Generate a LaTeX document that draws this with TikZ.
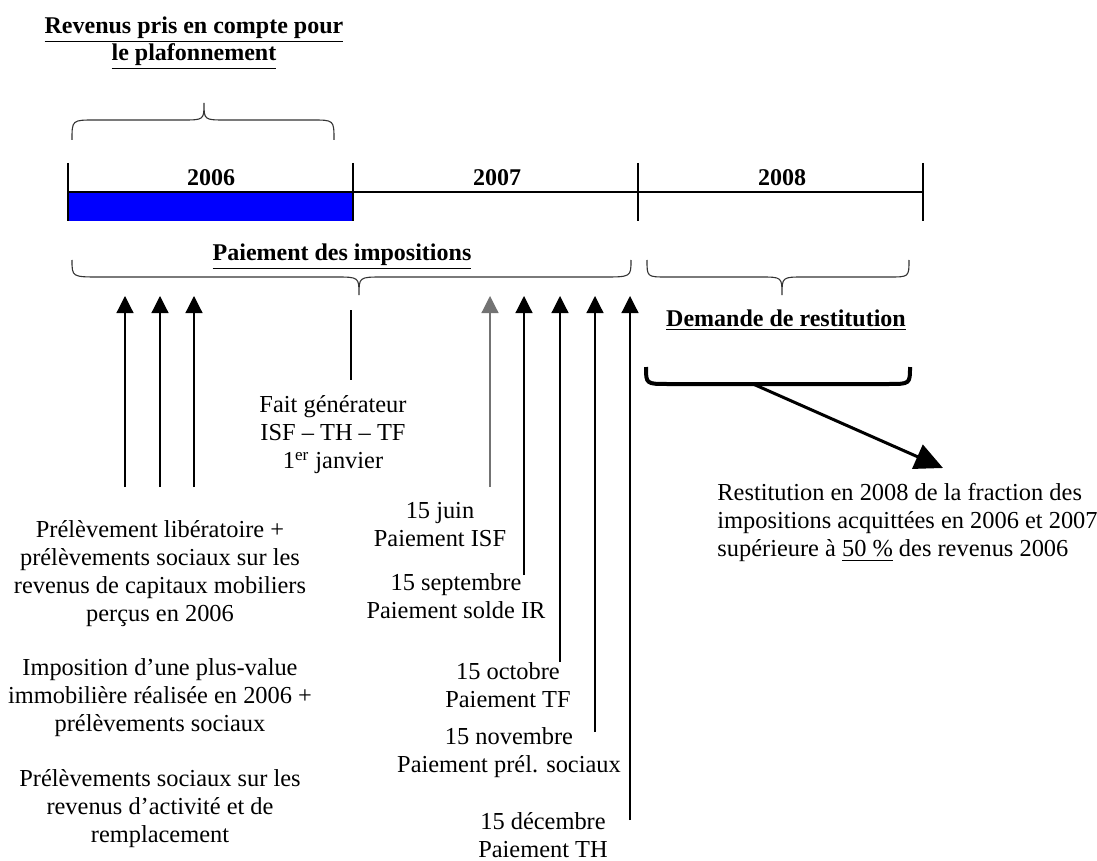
\documentclass[tikz,border=0pt]{standalone}
\usepackage{fontspec}
\setmainfont{Liberation Serif}
\usetikzlibrary{arrows.meta,positioning}

\begin{document}
\begin{tikzpicture}[x=0.5pt,y=-0.5pt,>=Latex,
txt/.style={align=center,font=\fontsize{12.2}{14}\selectfont,inner sep=0pt},
head/.style={align=center,font=\fontsize{12}{13.5}\selectfont\bfseries,inner sep=0pt},
tick/.style={line width=0.6pt},
brace/.style={line width=0.55pt,black!80},
uparrow/.style={-{Triangle[width=8.5pt,length=8.5pt]},line width=0.6pt}]
\useasboundingbox (0,0) rectangle (1097,861);
% timeline
\fill[blue] (68,192) rectangle (353,221);
\draw[tick] (68,192) -- (923,192);
\draw[tick] (68,163) -- (68,221);
\draw[tick] (353,163) -- (353,221);
\draw[tick] (638,163) -- (638,221);
\draw[tick] (923,163) -- (923,221);
\node[head] (y2006) at (211,178) {2006};
\node[head] (y2007) at (497,178) {2007};
\node[head] (y2008) at (782,178) {2008};
% headings
\node[head] (revenus) at (194,43) {\underline{Revenus pris en compte pour}\\\underline{le plafonnement}};
\node[head] (paiement) at (342,257) {\underline{Paiement des impositions}};
\node[head] (demande) at (786,320) {\underline{Demande de restitution}};
% braces
\draw[brace] (72,140) .. controls (72,120) .. (95,120) -- (182,120) .. controls (204,120) .. (204,103) .. controls (204,120) .. (226,120) -- (312,120) .. controls (334,120) .. (334,140);
\draw[brace] (72,260) .. controls (72,277) .. (100,277) -- (335,277) .. controls (359,277) .. (359,295) .. controls (359,277) .. (383,277) -- (603,277) .. controls (631,277) .. (631,260);
\draw[brace] (647,260) .. controls (647,277) .. (667,277) -- (760,277) .. controls (782,277) .. (782,295) .. controls (782,277) .. (804,277) -- (889,277) .. controls (909,277) .. (909,260);
\draw[line width=2pt] (646,367) .. controls (646,384) .. (668,384) -- (888,384) .. controls (910,384) .. (910,367);
% texts
\node[txt] (fait) at (333,435) {Fait générateur\\ISF – TH – TF\\1\textsuperscript{er} janvier};
\node[txt] (liber) at (160,574) {Prélèvement libératoire +\\prélèvements sociaux sur les\\revenus de capitaux mobiliers\\perçus en 2006};
\node[txt] (plusval) at (160,698) {Imposition d’une plus-value\\immobilière réalisée en 2006 +\\prélèvements sociaux};
\node[txt] (sociaux) at (160,809) {Prélèvements sociaux sur les\\revenus d’activité et de\\remplacement};
\node[txt] (juin) at (440,525) {15 juin\\Paiement ISF};
\node[txt] (sept) at (456,596) {15 septembre\\Paiement solde IR};
\node[txt] (oct) at (508,685) {15 octobre\\Paiement TF};
\node[txt] (nov) at (509,753) {15 novembre\\Paiement prél. sociaux};
\node[txt] (dec) at (543,835) {15 décembre\\Paiement TH};
\node[txt,align=left,anchor=west] (restit) at (717,523) {Restitution en 2008 de la fraction des\\impositions acquittées en 2006 et 2007\\supérieure à \underline{50 \%} des revenus 2006};
% connectors
\coordinate (fgtop) at (351,310);
\coordinate (fgbot) at (351,380);
\draw[tick] (fgtop) -- (fgbot);
\coordinate (a1) at (125,487); \coordinate (a1t) at (125,296);
\coordinate (a2) at (160,487); \coordinate (a2t) at (160,296);
\coordinate (a3) at (194,487); \coordinate (a3t) at (194,296);
\draw[uparrow] (a1) -- (a1t);
\draw[uparrow] (a2) -- (a2t);
\draw[uparrow] (a3) -- (a3t);
\coordinate (b1) at (490,487); \coordinate (b1t) at (490,296);
\coordinate (b2) at (524,575); \coordinate (b2t) at (524,296);
\coordinate (b3) at (560,662); \coordinate (b3t) at (560,296);
\coordinate (b4) at (595,732); \coordinate (b4t) at (595,296);
\coordinate (b5) at (630,820); \coordinate (b5t) at (630,296);
\draw[uparrow,black!55] (b1) -- (b1t);
\draw[uparrow] (b2) -- (b2t);
\draw[uparrow] (b3) -- (b3t);
\draw[uparrow] (b4) -- (b4t);
\draw[uparrow] (b5) -- (b5t);
\coordinate (restA) at (753,384);
\coordinate (restB) at (943,468);
\draw[line width=1.5pt,-{Triangle[width=13pt,length=14pt]}] (restA) -- (restB);
\end{tikzpicture}
\end{document}
